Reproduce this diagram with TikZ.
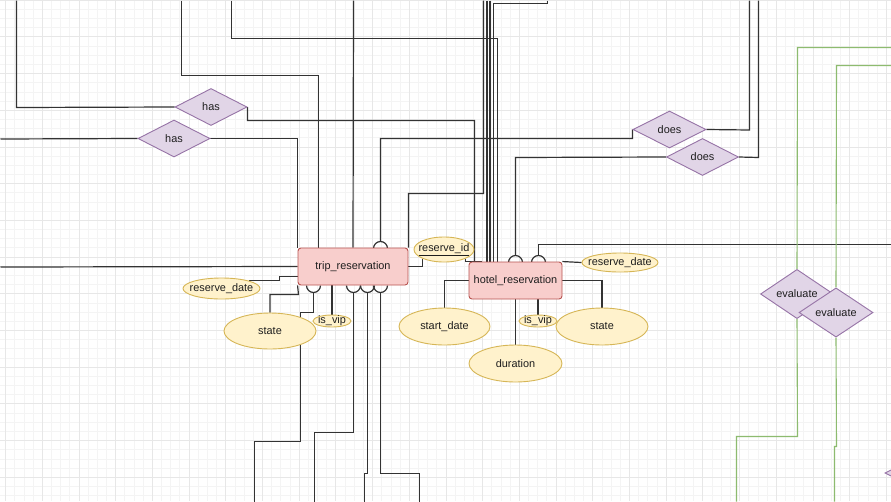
\documentclass[tikz,border=0pt]{standalone}
\usepackage{fontspec}
\setmainfont{Liberation Sans}
\usetikzlibrary{shapes.geometric,calc}
\pgfdeclarelayer{gridl}
\pgfdeclarelayer{edges}
\pgfsetlayers{gridl,edges,main}
\definecolor{entfill}{HTML}{F8CECC}
\definecolor{entdraw}{HTML}{B85450}
\definecolor{attfill}{HTML}{FFF2CC}
\definecolor{attdraw}{HTML}{D6B656}
\definecolor{relfill}{HTML}{E1D5E7}
\definecolor{reldraw}{HTML}{9673A6}
\definecolor{edgec}{HTML}{333333}
\definecolor{gedge}{HTML}{8DBB6F}
\definecolor{gridminor}{HTML}{F4F4F4}
\definecolor{gridmajor}{HTML}{E7E7E7}
\definecolor{txtc}{HTML}{1E1E1E}
\newcommand\hopup[2]{\draw[conn] ({#1-7},#2) arc[start angle=180,end angle=0,radius=7pt];}
\newcommand\hopdown[2]{\draw[conn] ({#1-7},#2) arc[start angle=180,end angle=360,radius=7pt];}
\begin{document}
\begin{tikzpicture}[x=1pt,y=-1pt,
  font=\fontsize{10.9}{13}\selectfont, text=txtc,
  ent/.style={draw=entdraw, fill=entfill, rounded corners=3pt, inner sep=0pt, line width=0.9pt},
  attr/.style={ellipse, draw=attdraw, fill=attfill, inner sep=0pt, line width=0.9pt},
  rel/.style={diamond, draw=reldraw, fill=relfill, inner sep=0pt, line width=0.9pt},
  conn/.style={draw=edgec, line width=1.2pt, shift={(0.5,0.5)}},
  gconn/.style={draw=gedge, line width=1.1pt, shift={(0.5,0.5)}},
]
\useasboundingbox (0,0) rectangle (891,501);
\clip (0,0) rectangle (891,501);

% ---------- grid ----------
\begin{pgfonlayer}{gridl}
\fill[white] (0,0) rectangle (891,501);
\foreach \k in {0,...,96} \draw[gridminor, line width=0.5pt] ({5.4+\k*9.175},0) -- ++(0,501);
\foreach \k in {0,...,54} \draw[gridminor, line width=0.5pt] (0,{\k*9.175}) -- ++(891,0);
\foreach \k in {0,...,24} \draw[gridmajor, line width=0.5pt] ({5.4+\k*36.7},0) -- ++(0,501);
\foreach \k in {0,...,13} \draw[gridmajor, line width=0.5pt] (0,{\k*36.7}) -- ++(891,0);
\end{pgfonlayer}

% ---------- entities ----------
\node[ent, minimum width=110pt, minimum height=37pt] (trip) at (353,266.5) {trip\_reservation};
\node[ent, minimum width=93pt, minimum height=37pt] (hotel) at (515.5,280.5) {hotel\_reservation};

% ---------- attributes ----------
\node[attr, minimum width=60pt, minimum height=25pt, label={center:\underline{reserve\_id}}] (rid) at (444,249.5) {};
\node[attr, minimum width=77pt, minimum height=21pt, label={center:reserve\_date}] (rdL) at (221.5,288.5) {};
\node[attr, minimum width=92pt, minimum height=36pt, label={center:state}] (stL) at (270,331) {};
\node[attr, minimum width=38pt, minimum height=12pt, label={center:is\_vip}] (ivL) at (332,321) {};
\node[attr, minimum width=76pt, minimum height=19pt, label={center:reserve\_date}] (rdR) at (620,262.5) {};
\node[attr, minimum width=91pt, minimum height=37pt, label={center:start\_date}] (sd) at (444.5,326.5) {};
\node[attr, minimum width=38pt, minimum height=12pt, label={center:is\_vip}] (ivR) at (538,321) {};
\node[attr, minimum width=92pt, minimum height=37pt, label={center:state}] (stR) at (602,326.5) {};
\node[attr, minimum width=93pt, minimum height=37pt, label={center:duration}] (dur) at (515.5,363.5) {};

% ---------- relationships ----------
\node[rel, minimum width=72pt, minimum height=37pt] (hasU) at (211,107) {has};
\node[rel, minimum width=72pt, minimum height=37pt] (hasL) at (174,138.5) {has};
\node[rel, minimum width=73pt, minimum height=37pt] (doesU) at (669.5,129.5) {does};
\node[rel, minimum width=72pt, minimum height=37pt] (doesL) at (702.5,157) {does};
\node[rel, minimum width=73pt, minimum height=36pt] (evU) at (797,294) {evaluate};
\node[rel, minimum width=74pt, minimum height=37pt] (evL) at (836,312.5) {evaluate};
\node[rel, minimum width=74pt, minimum height=37pt] (evX) at (922,473) {};

% ---------- connectors ----------
\begin{pgfonlayer}{edges}
% top-left
\draw[conn] (hasU.west) -- (16,107) -- (16,0);
\draw[conn] (hasL.west) -- (0,138.5);
\draw[conn] (hasL.east) -| (trip.north west);
\draw[conn] (181,0) -- (181,75) -- (318,75) -- (318,0 |- trip.north);
\draw[conn] (353,0) -- (trip.north);
\draw[conn] (doesU.west) -- (632,129.5) -- (632,138) -- (380,138) -- (380,241);
\hopup{380}{248}
\draw[conn] (hasU.east) -- (247,120) -- (474,120) -- (474,0 |- hotel.north);
\draw[conn] (231,0) -- (231,38) -- (497,38) -- (497,0 |- hotel.north);
\draw[conn] (547,0) -- (547,3) -- (493,3) -- (493,0 |- hotel.north);
\draw[conn] (483,0) -- (483,193) -- (408,193) -- (trip.north east);
\draw[conn] (486.5,0) -- (486.5,0 |- hotel.north);
\draw[conn] (489.5,0) -- (489.5,0 |- hotel.north);
% does
\draw[conn] (doesU.east) -- (749,129.5) -- (749,0);
\draw[conn] (doesL.east) -- (758,157) -- (758,0);
\draw[conn] (doesL.west) -- (515,157) -- (515,255);
\hopup{515}{262}
\draw[conn] (891,244) -- (538,244) -- (538,255);
\hopup{538}{262}
% trip attributes
\draw[conn] (0,266.5) -- (trip.west);
\draw[conn] (rdL.north east) -| (279,276) -- (trip.west |- 0,276);
\draw[conn] (stL.north) |- (298,294) -- (trip.south west);
\draw[conn] (ivL.north) -- (ivL.north |- trip.south);
\draw[conn] (trip.east) -| (rid.south west);
\draw[conn] (rid.south east) |- ($(hotel.north west)+(13,0)$);
% trip bottom
\hopdown{313}{285}
\hopdown{353}{285}
\hopdown{367}{285}
\hopdown{380}{285}
\draw[conn] (313,292) -- (313,312) -- (300,312) -- (300,441) -- (254,441) -- (254,501);
\draw[conn] (353,292) -- (353,432) -- (314,432) -- (314,501);
\draw[conn] (367,292) -- (367,473) -- (364,473) -- (364,501);
\draw[conn] (380,292) -- (380,473) -- (419,473) -- (419,501);
% hotel attributes
\draw[conn] (sd.north) |- (hotel.west);
\draw[conn] (hotel.south) -- (dur.north);
\draw[conn] (ivR.north) -- (ivR.north |- hotel.south);
\draw[conn] (hotel.east) -| (stR.north);
\draw[conn] (hotel.north east) -- (rdR.west);
% green
\draw[gconn] (891,47) -- (797,47) -- (evU.north);
\draw[gconn] (evU.south) -- (797,436) -- (736,436) -- (736,501);
\draw[gconn] (891,65) -- (836,65) -- (evL.north);
\draw[gconn] (evL.south) -- (836,446) -- (834,446) -- (834,501);
\end{pgfonlayer}
\end{tikzpicture}
\end{document}
